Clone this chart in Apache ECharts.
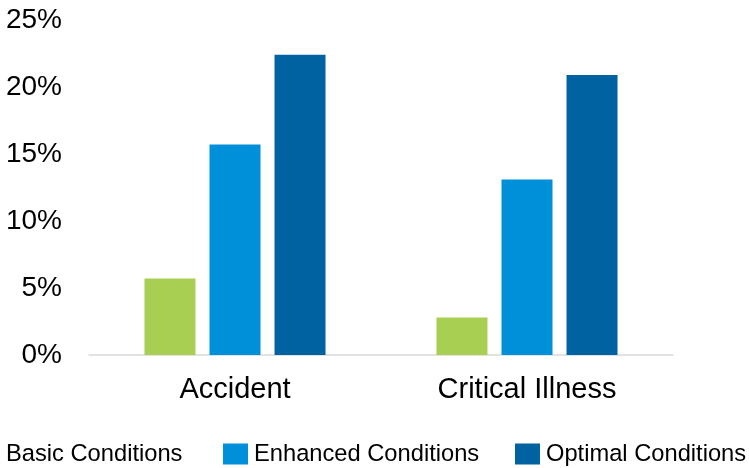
<!DOCTYPE html>
<html>
<head>
<meta charset="utf-8">
<script src="https://cdn.jsdelivr.net/npm/echarts@6/dist/echarts.min.js"></script>
<style>
  html, body { margin: 0; padding: 0; background: #ffffff; }
  #chart { width: 749px; height: 468px; }
</style>
</head>
<body>
<div id="chart"></div>
<script>
// Categories and series values (percent)
const categories = ['Accident', 'Critical Illness'];
const basicValues = [5.7, 2.8];
const enhancedValues = [15.7, 13.1];
const optimalValues = [22.4, 20.9];
const seriesNames = ['Basic Conditions', 'Enhanced Conditions', 'Optimal Conditions'];
const yTicks = [0, 5, 10, 15, 20, 25];

const colors = ['#A8CF52', '#0090DA', '#0062A1'];
const fontFamily = 'Arial, "Liberation Sans", sans-serif';

const chart = echarts.init(document.getElementById('chart'), null, { renderer: 'canvas' });

function legendFor(name, left) {
  return {
    data: [name],
    left: left,
    top: 442,
    itemWidth: 25,
    itemHeight: 21,
    itemGap: 0,
    padding: 0,
    icon: 'rect',
    textStyle: { fontFamily: fontFamily, fontSize: 23.7, color: '#000000', padding: [0, 0, 0, 1] },
    selectedMode: false
  };
}

chart.setOption({
  animation: false,
  backgroundColor: '#ffffff',
  color: colors,
  grid: { left: 89, right: 76, top: 20, bottom: 113, containLabel: false },
  legend: [
    legendFor(seriesNames[0], -25),
    legendFor(seriesNames[1], 223),
    legendFor(seriesNames[2], 515)
  ],
  xAxis: {
    type: 'category',
    data: categories,
    axisLine: { show: true, lineStyle: { color: '#D9D9D9', width: 1.5 } },
    axisTick: { show: false },
    axisLabel: { fontFamily: fontFamily, fontSize: 29, color: '#000000', margin: 20 }
  },
  yAxis: {
    type: 'value',
    min: yTicks[0],
    max: yTicks[yTicks.length - 1],
    interval: 5,
    splitLine: { show: false },
    axisLine: { show: false },
    axisTick: { show: false },
    axisLabel: {
      fontFamily: fontFamily, fontSize: 28, color: '#000000', margin: 27,
      formatter: v => v + '%'
    }
  },
  series: [
    { name: seriesNames[0], type: 'bar', data: basicValues, barWidth: 51, barGap: '27.5%' },
    { name: seriesNames[1], type: 'bar', data: enhancedValues, barWidth: 51, barGap: '27.5%' },
    { name: seriesNames[2], type: 'bar', data: optimalValues, barWidth: 51, barGap: '27.5%' }
  ]
});
</script>
</body>
</html>
